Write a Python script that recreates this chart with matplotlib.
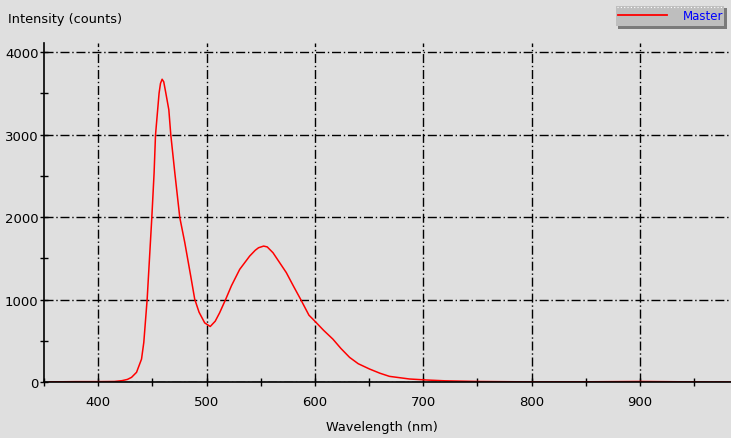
import matplotlib.pyplot as plt
from matplotlib.patches import Rectangle
from matplotlib.lines import Line2D
from matplotlib.ticker import MultipleLocator

# spectrum (nm, counts)
wavelength = [355, 380, 400, 415, 422, 427, 430.8, 435.4, 440.0, 442.1, 445.2,
              449.5, 451.6, 452.9, 456.2, 457.5, 459.0, 460.5, 462.4, 465.2,
              467.0, 470.7, 475.3, 479.9, 485.4, 489.1, 493.1, 498.3, 503.4,
              508, 512, 517.7, 523, 530.6, 539.8, 545, 548, 552.7, 556, 561.3,
              573.6, 580, 586.8, 594.5, 599.7, 608, 616.6, 624, 632.0, 640,
              650.4, 660, 668.8, 687.3, 702.7, 720, 750, 800, 850, 900, 950, 984]
counts = [5, 8, 8, 10, 20, 35, 60, 121, 281, 483, 1006,
          1996, 2536, 2995, 3502, 3620, 3671, 3640, 3506, 3301,
          2999, 2540, 1997, 1694, 1287, 1006, 849, 720, 676,
          740, 840, 1006, 1170, 1368, 1529, 1600, 1630, 1650, 1640, 1570,
          1329, 1170, 1006, 813, 744, 630, 523, 410, 302, 225,
          161, 110, 72, 40, 28, 18, 10, 5, 6, 10, 5, 3]

bg = '#dfdfdf'
W, H = 731, 439

plt.rcParams['font.family'] = 'DejaVu Sans'
fig = plt.figure(figsize=(W / 100, H / 100), dpi=100, facecolor=bg)
ax = fig.add_axes([44 / W, (H - 383.3) / H, (W - 44) / W, (383.3 - 44) / H])
ax.set_facecolor(bg)

ax.plot(wavelength, counts, color='#ff0000', lw=1.1)

ax.set_xlim(350, 984)
ax.set_ylim(0, 4110)
ax.xaxis.set_major_locator(MultipleLocator(100))
ax.xaxis.set_minor_locator(MultipleLocator(50))
ax.yaxis.set_major_locator(MultipleLocator(1000))
ax.yaxis.set_minor_locator(MultipleLocator(500))
ax.grid(True, which='major', color='black', lw=1, linestyle=(0, (6.5, 2, 1, 2)))

for s in ['top', 'right']:
    ax.spines[s].set_visible(False)
for s in ['left', 'bottom']:
    ax.spines[s].set_linewidth(1.2)

ax.tick_params(which='both', direction='inout', length=6, width=1, labelsize=9.5)
ax.tick_params(axis='x', pad=6)
ax.tick_params(axis='y', pad=1)

fig.text(8 / W, 1 - 19 / H, 'Intensity (counts)', fontsize=9.3, va='center', ha='left')
fig.text(382 / W, 1 - 428 / H, 'Wavelength (nm)', fontsize=9.3, va='center', ha='center')

# legend box
def fx(x):
    return x / W

def fy(y):
    return 1 - y / H

fig.add_artist(Rectangle((fx(618), fy(29.5)), 109 / W, 20.5 / H,
                         transform=fig.transFigure, facecolor='#7a7a7a', edgecolor='none'))
fig.add_artist(Rectangle((fx(615.7), fy(27.3)), 108.5 / W, 20.6 / H,
                         transform=fig.transFigure, facecolor='#bebebe', edgecolor='none'))
fig.add_artist(Line2D([fx(617), fx(723)], [fy(7.5), fy(7.5)], transform=fig.transFigure,
                      color='white', lw=0.8, linestyle=(0, (1, 2))))
fig.add_artist(Line2D([fx(618), fx(666.7)], [fy(16), fy(16)],
                      transform=fig.transFigure, color='#ff0000', lw=1.3))
fig.text(fx(683), fy(16.5), 'Master', color='#0000ff', fontsize=8.5, va='center', ha='left')

fig.savefig('out.png', dpi=100, facecolor=bg)
